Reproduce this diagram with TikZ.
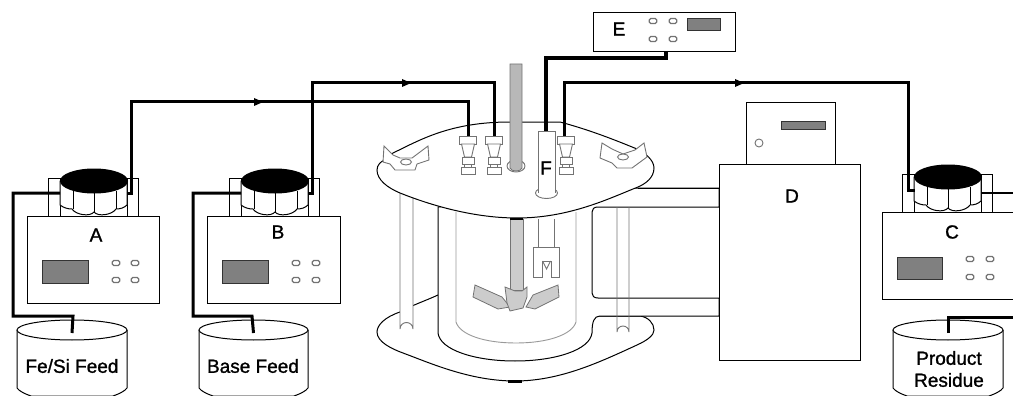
\documentclass[tikz,border=0pt]{standalone}
\usepackage{fontspec}
\newfontfamily\lab[FakeBold=1.2]{Liberation Sans}
\definecolor{disp}{gray}{0.5}
\definecolor{hair}{gray}{0.45}
\definecolor{rodA}{gray}{0.72}
\definecolor{rodB}{gray}{0.8}
\tikzset{
  outl/.style={draw=black,line width=1pt,fill=white},
  thin gray/.style={draw=hair,line width=0.9pt,fill=white},
  tube/.style={draw=black,line width=3pt,line join=miter},
  thicktube/.style={draw=black,line width=4.4pt,line join=miter},
  btn/.style={draw=hair,line width=1.1pt,fill=white,rounded corners=1.5pt,minimum width=7.5pt,minimum height=5pt,inner sep=0pt},
  lbl/.style={font=\lab\fontsize{19}{22}\selectfont,inner sep=0pt,align=center},
  dispbox/.style={draw=black!80,line width=1pt,fill=disp},
  marker/.style={fill=black,draw=none},
}
\newcommand{\pumphead}[4]{%
  \begin{scope}[shift={(#2,#3)}]
    \draw[outl] (-46,-3) rectangle (-34,#4);
    \draw[outl] (33,-3) rectangle (44,#4);
    \draw[outl] (-34,0) -- (-34,24) .. controls (-30,27) and (-26,28) .. (-22,28)
       .. controls (-18,34) and (-4,36) .. (0,31) .. controls (4,36) and (18,34) .. (22,28)
       .. controls (26,28) and (30,27) .. (33,24) -- (33,0) -- cycle;
    \draw[draw=black,line width=1pt] (-21,10) -- (-21,28) (0,12) -- (0,31) (22,10) -- (22,28);
    \coordinate (#1in) at (-34,12);
    \coordinate (#1out) at (33,12);
    \fill[black] (0,0) ellipse [x radius=34,y radius=12.5];
  \end{scope}}
\newcommand{\tank}[4]{%
  \draw[outl] (#2,330) -- (#2,388) .. controls (#2+2,391) and (#2+8,394) .. (#2+14,396) -- (#3-14,396)
     .. controls (#3-8,394) and (#3-2,391) .. (#3,388) -- (#3,330);
  \draw[outl] ({(#2+#3)/2},330) ellipse [x radius={(#3-#2)/2},y radius=10];
  \coordinate (#1) at ({(#2+#3)/2},333);}
\newcommand{\fitting}[1]{%
  \begin{scope}[shift={(#1,0)}]
    \draw[thin gray] (-8.5,136) rectangle (8.5,144);
    \draw[thin gray] (-6.5,144) -- (-3.5,157) -- (3.5,157) -- (6.5,144) -- cycle;
    \draw[thin gray] (-6,157) rectangle (6,164);
    \draw[thin gray] (-7,167) rectangle (7,174);
    \draw[thin gray] (-3.5,164) rectangle (3.5,167);
  \end{scope}}
\begin{document}
\begin{tikzpicture}[x=1pt,y=-1pt]
\useasboundingbox (0,0) rectangle (1013,396);

% ---- bottom plate
\draw[outl] (438,295) .. controls (425,301) and (410,306) .. (400,312)
   .. controls (385,317) and (377,325) .. (377,332)
   .. controls (377,342) and (392,349) .. (403,353)
   .. controls (430,363) and (470,381) .. (515,381)
   .. controls (560,381) and (600,362) .. (637,345)
   .. controls (648,340) and (654,335) .. (654,330)
   .. controls (654,323) and (648,317) .. (640,316) -- (592,316) -- cycle;
% ---- left rod
\draw[thin gray] (400,190) -- (400,329) arc[start angle=180,end angle=360,radius=6.5] -- (413,190);
% ---- jacket (outer vessel)
\draw[outl] (438,207) -- (438,333) .. controls (440,350) and (475,361) .. (515,361)
   .. controls (555,361) and (590,350) .. (592,333)
   .. controls (592,322) and (594,316) .. (600,316) -- (660,316) -- (719,316) -- (719,298) -- (598,298)
   .. controls (594,298) and (592,296) .. (592,293) -- (592,212)
   .. controls (592,209) and (594,207) .. (598,207) -- (719,207) -- (719,188) -- (630,188) -- (438,207);
\draw[draw=black,line width=1pt] (719,188) -- (638,188);
% ---- inner vessel
\draw[draw=black!40,line width=0.9pt] (456,212) -- (456,322) .. controls (460,335) and (485,343) .. (516,343)
   .. controls (547,343) and (572,335) .. (576,322) -- (576,212);
% ---- right rods
\draw[draw=hair,line width=0.9pt] (617,207) -- (617,332) arc[start angle=180,end angle=360,radius=6] -- (629,207);
% ---- shaft, impeller
\draw[draw=black!55,fill=rodB,line width=0.8pt] (510,219) rectangle (523,290);
\draw[draw=black,line width=1.4pt] (510,219) -- (523,219);
\draw[draw=black!55,fill=rodB,line width=0.8pt] (475,285) -- (502,297) -- (510,307) -- (498,309) -- (473,297) -- cycle;
\draw[draw=black!55,fill=rodB,line width=0.8pt] (558,285) -- (559,297) -- (535,309) -- (526,307) -- (533,295) -- cycle;
\draw[draw=black!55,fill=rodB,line width=0.8pt] (505,287) -- (515,291) -- (522,291) -- (527,287) -- (527,297) -- (523,308) -- (510,311) -- (507,303) -- cycle;
% ---- probe lower part
\draw[draw=hair,line width=0.9pt] (538,219) -- (538,247) (554,219) -- (554,247);
\draw[thin gray] (533,247) -- (559,247) -- (559,277) -- (551,277) -- (551,261) -- (542,261) -- (542,277) -- (533,277) -- cycle;
\draw[draw=hair,line width=0.9pt] (542.5,261) -- (546.5,269) -- (550.5,261);
% ---- top plate
\draw[outl] (393,153) .. controls (420,140) and (450,122) .. (510,122) -- (560,122)
   .. controls (590,130) and (615,140) .. (637,149)
   .. controls (645,153) and (654,160) .. (654,168)
   .. controls (654,178) and (645,184) .. (638,187)
   .. controls (610,198) and (570,218) .. (517,218)
   .. controls (470,218) and (425,203) .. (400,193)
   .. controls (388,188) and (377,180) .. (377,170)
   .. controls (377,165) and (381,161) .. (385,160) -- cycle;
% ---- wing nuts
\draw[thin gray] (384,146) -- (393,155) -- (400,158) -- (412,158) -- (428,146) -- (429,160) -- (417,164) -- (415,170) -- (395,170) -- (390,164) -- (383,162) -- cycle;
\draw[thin gray] (406,162) ellipse [x radius=5.5,y radius=3];
\draw[thin gray] (602,143) -- (612,149) -- (623,154) -- (635,150) -- (644,143) -- (647,157) -- (632,168) -- (617,168) -- (612,163) -- (600,158) -- cycle;
\draw[thin gray] (623,157) ellipse [x radius=5.5,y radius=3];
% ---- fittings and stirrer in plate
\fitting{468}
\fitting{494}
\fitting{566}
\draw[draw=hair,line width=0.9pt] (516,166) ellipse [x radius=9,y radius=6];
\draw[draw=black!55,fill=rodA,line width=0.8pt] (510,64) -- (510,168) .. controls (511,172) and (521,172) .. (522,168) -- (522,64) -- cycle;
% ---- F probe
\draw[draw=hair,line width=0.9pt] (546.5,193) ellipse [x radius=11,y radius=5.5];
\node[fill=white,minimum width=17pt,minimum height=62pt,inner sep=0pt,anchor=north west] (probeF) at (538,131) {};
\draw[draw=hair,line width=0.9pt] (538,193) -- (538,131) -- (555,131) -- (555,193);
\node[lbl] (labF) at (546,168) {F};
% ---- plate marks
\fill[black] (508,380) rectangle (522,382.5);

% ---- D unit
\node[outl,minimum width=89pt,minimum height=62pt,inner sep=0pt,anchor=north west] (Dtop) at (746,102) {};
\node[outl,minimum width=141pt,minimum height=196pt,inner sep=0pt,anchor=north west] (Dmain) at (719,164) {};
\node[lbl] (labD) at (792,196) {D};
\draw[dispbox] (781,121) rectangle (825,129);
\draw[thin gray] (759,143) circle [radius=4];

% ---- E unit
\node[outl,minimum width=142pt,minimum height=39pt,inner sep=0pt,anchor=north west] (Ebox) at (593,12) {};
\node[lbl] (labE) at (619,29) {E};
\draw[dispbox] (687,18.5) rectangle (720,31);
\node[btn] (e1) at (653,21) {}; \node[btn] (e2) at (673,21) {};
\node[btn] (e3) at (653,39) {}; \node[btn] (e4) at (673,39) {};

% ---- pumps
\node[outl,minimum width=132pt,minimum height=87pt,inner sep=0pt,anchor=north west] (Abox) at (27,216) {};
\node[lbl] (labA) at (96,235) {A};
\draw[dispbox] (42,260) rectangle (88,283);
\node[btn] at (116,263) {}; \node[btn] at (135,263) {};
\node[btn] at (116,280) {}; \node[btn] at (135,280) {};
\pumphead{A}{94}{181}{35}

\node[outl,minimum width=133pt,minimum height=87pt,inner sep=0pt,anchor=north west] (Bbox) at (207,216) {};
\node[lbl] (labB) at (278,232) {B};
\draw[dispbox] (222,260) rectangle (268,283);
\node[btn] at (296,263) {}; \node[btn] at (316,263) {};
\node[btn] at (296,280) {}; \node[btn] at (316,280) {};
\pumphead{B}{275}{181}{35}

\node[outl,minimum width=140pt,minimum height=87pt,inner sep=0pt,anchor=north west] (Cbox) at (882,212) {};
\node[lbl] (labC) at (952,232) {C};
\draw[dispbox] (897,257) rectangle (942,279);
\node[btn] at (970,259) {}; \node[btn] at (990,259) {};
\node[btn] at (970,277) {}; \node[btn] at (990,277) {};
\pumphead{C}{948}{177}{35}

% ---- tanks
\tank{tA}{17}{127}{396}
\tank{tB}{199}{308}{396}
\tank{tC}{893}{1003}{396}
\node[lbl] (labFe) at (72,366) {Fe/Si Feed};
\node[lbl] (labBase) at (253,366) {Base Feed};
\node[lbl] (labProd) at (949,358) {Product};
\node[lbl] (labRes) at (949,380) {Residue};

% ---- connector endpoints
\coordinate (f1) at (468,136);
\coordinate (f2) at (494,136);
\coordinate (f3) at (564,136);
\coordinate (rightedge1) at (1013,193);
\coordinate (rightedge2) at (1013,317);

% ---- tubes
\draw[tube] (tA) -- (73,316) -- (13,316) -- (13,193) -- (Ain);
\draw[tube] (Aout) -- (131,193) -- (131,102) -- (468,102) -- (f1);
\draw[tube] (tB) -- (252,316) -- (193,316) -- (193,193) -- (Bin);
\draw[tube] (Bout) -- (312,193) -- (312,83) -- (494,83) -- (f2);
\draw[tube] (f3) -- (564,83) -- (908,83) -- (908,190) -- (915,190);
\draw[draw=black,line width=2pt] (Cout |- rightedge1) -- (rightedge1);
\draw[tube] (tC) -- (948,317) -- (rightedge2);
\draw[thicktube] (666,51) -- (666,58) -- (546,58) -- (probeF.north -| 546,131);
% arrow marks
\fill[marker] (254,98) -- (263,102) -- (254,106) -- cycle;
\fill[marker] (402,79) -- (411,83) -- (402,87) -- cycle;
\fill[marker] (735,79) -- (744,83) -- (735,87) -- cycle;
\end{tikzpicture}
\end{document}
